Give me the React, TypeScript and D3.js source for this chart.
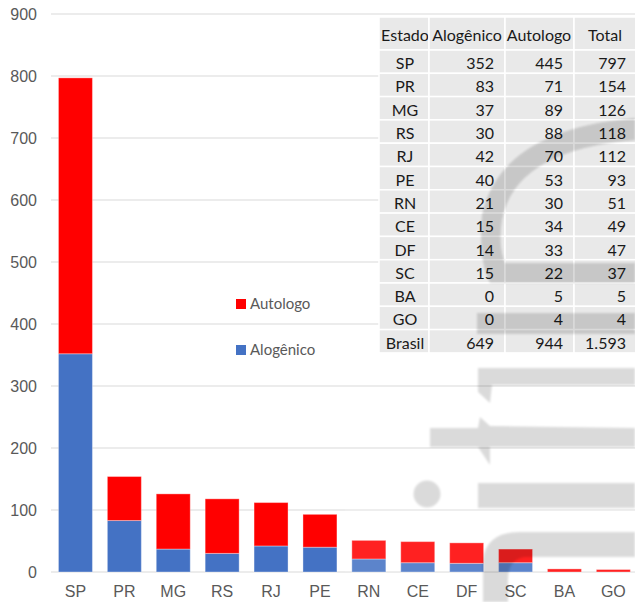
import React from "react";
import * as d3 from "d3";

const states = ["SP", "PR", "MG", "RS", "RJ", "PE", "RN", "CE", "DF", "SC", "BA", "GO"];
const alogenico = [352, 83, 37, 30, 42, 40, 21, 15, 14, 15, 0, 0];
const autologo = [445, 71, 89, 88, 70, 53, 30, 34, 33, 22, 5, 4];
const yTicks = [0, 100, 200, 300, 400, 500, 600, 700, 800, 900];
const tableHeader = ["Estado", "Alogênico", "Autologo", "Total"];
const totalLabel = "Brasil";
const seriesNames = ["Autologo", "Alogênico"];

const W = 635;
const H = 602;

const ptBR = d3.formatLocale({ decimal: ",", thousands: ".", grouping: [3], currency: ["R$", ""] });
const fmt = ptBR.format(",d");

export default function App() {
  const y = d3.scaleLinear().domain([0, 900]).range([572, 14]);
  const x = d3
    .scaleBand<string>()
    .domain(states)
    .range([51, 637.8])
    .paddingInner(0.305)
    .paddingOuter(0.1525);

  const data = states.map((s, i) => ({ s, a: alogenico[i], b: autologo[i] }));
  const stack = d3.stack<any>().keys(["a", "b"])(data as any);
  const colors = ["#4472c4", "#ff0000"];

  const rows = data.map((d) => [d.s, fmt(d.a), fmt(d.b), fmt(d.a + d.b)]);
  const sumA = d3.sum(alogenico);
  const sumB = d3.sum(autologo);
  rows.push([totalLabel, fmt(sumA), fmt(sumB), fmt(sumA + sumB)]);

  const colEdges = [379, 429, 505, 574, 636];
  const headerTop = 17;
  const headerBottom = 50;
  const rowH = 23.3;
  const numRight = [0, 494, 563, 626];
  const headerCenters = [405, 467, 539, 605];
  const tableFont = "Lato, 'Open Sans', sans-serif";
  const axisFont = "'Liberation Sans', Arial, sans-serif";

  return (
    <svg width={W} height={H} style={{ position: "absolute", left: 0, top: 0, background: "#fff" }}>
      <defs>
        <filter id="blur" x="-10%" y="-10%" width="120%" height="120%">
          <feGaussianBlur stdDeviation="1.2" />
        </filter>
      </defs>
      {/* gridlines */}
      {yTicks.map((t) => (
        <line key={t} x1={51} x2={W} y1={y(t)} y2={y(t)} stroke="#d9d9d9" strokeWidth={1} />
      ))}
      {/* y labels */}
      {yTicks.map((t) => (
        <text
          key={"l" + t}
          x={37}
          y={y(t)}
          dy="0.36em"
          textAnchor="end"
          fontFamily={axisFont}
          fontSize={16}
          fill="#595959"
        >
          {t}
        </text>
      ))}
      {/* bars */}
      {stack.map((layer, li) => (
        <g key={li} fill={colors[li]}>
          {layer.map((d: any, i: number) => (
            <rect
              key={i}
              x={x(states[i])}
              width={x.bandwidth()}
              y={y(d[1])}
              height={Math.max(0, y(d[0]) - y(d[1]))}
              stroke="#ffffff"
              strokeOpacity={0.35}
              strokeWidth={1}
            />
          ))}
        </g>
      ))}
      {/* soft white halo over right bars */}
      <rect x={345} y={495} width={290} height={77} fill="#fff" opacity={0.13} />
      {/* x labels */}
      {states.map((s) => (
        <text
          key={"x" + s}
          x={(x(s) as number) + x.bandwidth() / 2}
          y={597}
          textAnchor="middle"
          fontFamily={axisFont}
          fontSize={16}
          fill="#595959"
        >
          {s}
        </text>
      ))}
      {/* legend */}
      <rect x={236} y={299} width={10} height={10} fill={colors[1]} />
      <text x={250} y={308.5} fontFamily={tableFont} fontSize={15} fill="#595959">
        {seriesNames[0]}
      </text>
      <rect x={236} y={345} width={10} height={10} fill={colors[0]} />
      <text x={250} y={355} fontFamily={tableFont} fontSize={15} fill="#595959">
        {seriesNames[1]}
      </text>
      {/* table */}
      <g>
        {tableHeader.map((h, ci) => (
          <g key={"h" + ci}>
            <rect
              x={colEdges[ci]}
              y={headerTop}
              width={colEdges[ci + 1] - colEdges[ci]}
              height={headerBottom - headerTop}
              fill="#e9e9e9"
              stroke="#fff"
              strokeWidth={1.5}
            />
            <text
              x={headerCenters[ci]}
              y={41}
              textAnchor="middle"
              fontFamily={tableFont}
              fontSize={16}
              fill="#1a1a1a"
            >
              {h}
            </text>
          </g>
        ))}
        {rows.map((r, ri) =>
          r.map((v, ci) => {
            const top = headerBottom + ri * rowH;
            return (
              <g key={ri + "-" + ci}>
                <rect
                  x={colEdges[ci]}
                  y={top}
                  width={colEdges[ci + 1] - colEdges[ci]}
                  height={rowH}
                  fill="#e9e9e9"
                  stroke="#fff"
                  strokeWidth={1.5}
                />
                <text
                  x={ci === 0 ? headerCenters[0] : numRight[ci]}
                  y={top + rowH / 2 + 7.5}
                  textAnchor={ci === 0 ? "middle" : "end"}
                  fontFamily={tableFont}
                  fontSize={16}
                  fill="#1a1a1a"
                >
                  {v}
                </text>
              </g>
            );
          })
        )}
      </g>
      {/* watermark */}
      <g fill="#000" opacity={0.14} filter="url(#blur)">
        <path d="M478,368 L635,368 L635,385 L492,385 L490,403 L478,392 Z" />
        <path d="M430,428 L478,428 L480,417 L490,426 L635,428 L635,447 L490,447 L490,465 L478,447 L430,447 Z" />
        <rect x={478} y={483} width={157} height={25} />
        <circle cx={427} cy={494} r={13.5} />
        <path d="M483,602 L483,560 Q486,532 520,532 L635,532 L635,557 L525,557 Q508,559 508,580 L508,602 Z" />
        <path d="M635,118 Q500,130 482,215 Q478,260 490,283 L635,283 L635,263 L505,263 Q498,245 502,220 Q515,150 635,140 Z" />
        <rect x={477} y={313} width={158} height={21} />
      </g>
    </svg>
  );
}
